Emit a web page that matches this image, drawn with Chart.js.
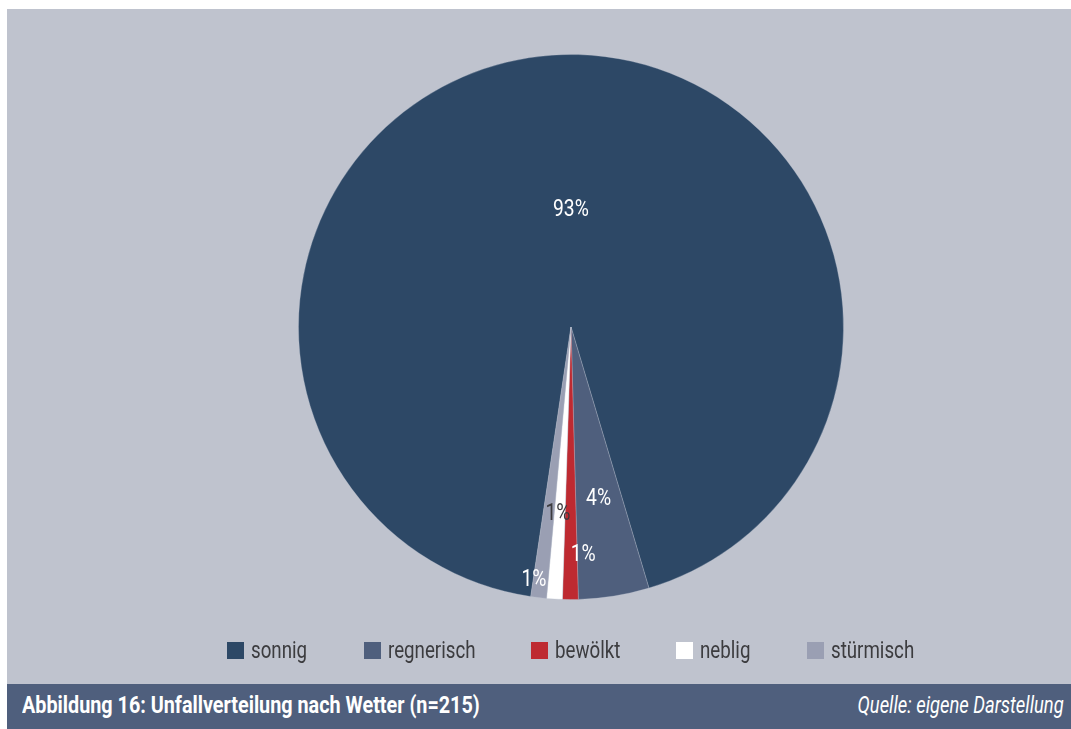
<!DOCTYPE html>
<html lang="de">
<head>
<meta charset="utf-8">
<title>Unfallverteilung nach Wetter</title>
<script src="https://cdn.jsdelivr.net/npm/chart.js@4.4.1/dist/chart.umd.min.js"></script>
<style>
  html, body { margin: 0; padding: 0; background: #ffffff; }
  body { width: 1071px; height: 729px; position: relative; overflow: hidden; font-family: "Roboto", "Liberation Sans", sans-serif; }
  #panel { position: absolute; left: 7px; top: 9px; width: 1064px; height: 675px; background: #bfc3ce; }
  #pie { position: absolute; left: 0; top: 0; }
  .item { position: absolute; top: 0; height: 30px; }
  .swatch { position: absolute; left: 0; top: 7px; width: 17px; height: 17px; }
  .item .txt { position: absolute; left: 24px; top: 0; font-size: 24px; line-height: 30px; color: #3c3c3f;
               white-space: nowrap; transform-origin: 0 50%; }
  #legend { position: absolute; left: 0; top: 626px; width: 1064px; height: 30px; }
  #footer { position: absolute; left: 7px; top: 684px; width: 1064px; height: 45px; background: #4f5f7d; color: #ffffff; }
  #footer span { position: absolute; top: 7px; font-size: 23px; line-height: 30px; white-space: nowrap; }
  #footer .title { left: 15px; font-weight: bold; transform-origin: 0 50%; transform: scaleX(0.86); }
  #footer .source { right: 7px; font-style: italic; transform-origin: 100% 50%; transform: scaleX(0.8); }
</style>
</head>
<body>
<div id="panel">
  <canvas id="pie" width="1064" height="675"></canvas>
  <div id="legend"></div>
</div>
<div id="footer">
  <span class="title">Abbildung 16: Unfallverteilung nach Wetter (n=215)</span>
  <span class="source">Quelle: eigene Darstellung</span>
</div>
<script>
// Wetterlage bei Unfällen (Anzahl, n = 215)
const categories = ['sonnig', 'regnerisch', 'bewölkt', 'neblig', 'stürmisch'];
const counts = [200, 9, 2, 2, 2];
const percentLabels = ['93%', '4%', '1%', '1%', '1%'];

const sliceColors = ['#2d4866', '#4f5f7d', '#be2a31', '#ffffff', '#9a9fb3'];
const labelColors = ['#ffffff', '#ffffff', '#ffffff', '#3c3c3f', '#ffffff'];
// label placement per slice: turn from slice middle (degrees) and radius fraction
const labelTurn = [4, 0, -3.2, 0.5, 1.5];
const labelRadius = [0.43, 0.64, 0.84, 0.69, 0.94];

// horizontal squeeze that gives the regular face a condensed look
const condense = 0.78;
const fontFamily = '"Roboto", "Liberation Sans", sans-serif';

// Prozentangaben auf den Segmenten
const sliceLabels = {
  id: 'sliceLabels',
  afterDatasetsDraw(chart) {
    const ctx = chart.ctx;
    const meta = chart.getDatasetMeta(0);
    meta.data.forEach((arc, i) => {
      const p = arc.getProps(['x', 'y', 'startAngle', 'endAngle', 'outerRadius'], true);
      const a = (p.startAngle + p.endAngle) / 2 + labelTurn[i] * Math.PI / 180;
      const r = p.outerRadius * labelRadius[i];
      ctx.save();
      ctx.translate(p.x + r * Math.cos(a), p.y + r * Math.sin(a));
      ctx.scale(condense + 0.06, 1);
      ctx.font = '23px ' + fontFamily;
      ctx.textAlign = 'center';
      ctx.textBaseline = 'middle';
      ctx.fillStyle = labelColors[i];
      ctx.fillText(percentLabels[i], 0, 0);
      ctx.restore();
    });
  }
};

const chart = new Chart(document.getElementById('pie'), {
  type: 'pie',
  data: {
    labels: categories,
    datasets: [{
      data: counts,
      backgroundColor: sliceColors,
      borderColor: 'rgba(190,196,210,0.3)',
      borderWidth: 1
    }]
  },
  options: {
    responsive: false,
    animation: false,
    rotation: 188.5,
    layout: { padding: { top: 45, bottom: 84, left: 64, right: 0 } },
    plugins: {
      legend: { display: false },
      tooltip: { enabled: false }
    }
  },
  plugins: [sliceLabels]
});

// Legende aus denselben Kategorien und Farben, mittig unter dem Kreis
const legend = document.getElementById('legend');
const itemGap = 56;
const items = categories.map((name, i) => {
  const item = document.createElement('div');
  item.className = 'item';
  const sw = document.createElement('span');
  sw.className = 'swatch';
  sw.style.background = sliceColors[i];
  const txt = document.createElement('span');
  txt.className = 'txt';
  txt.textContent = name;
  txt.style.transform = 'scaleX(' + condense + ')';
  item.appendChild(sw);
  item.appendChild(txt);
  legend.appendChild(item);
  return { item, width: 24 + txt.offsetWidth * condense };
});
const total = items.reduce((s, it) => s + it.width, 0) + itemGap * (items.length - 1);
let x = chart.getDatasetMeta(0).data[0].x - total / 2;
items.forEach(it => { it.item.style.left = x + 'px'; x += it.width + itemGap; });
</script>
</body>
</html>
